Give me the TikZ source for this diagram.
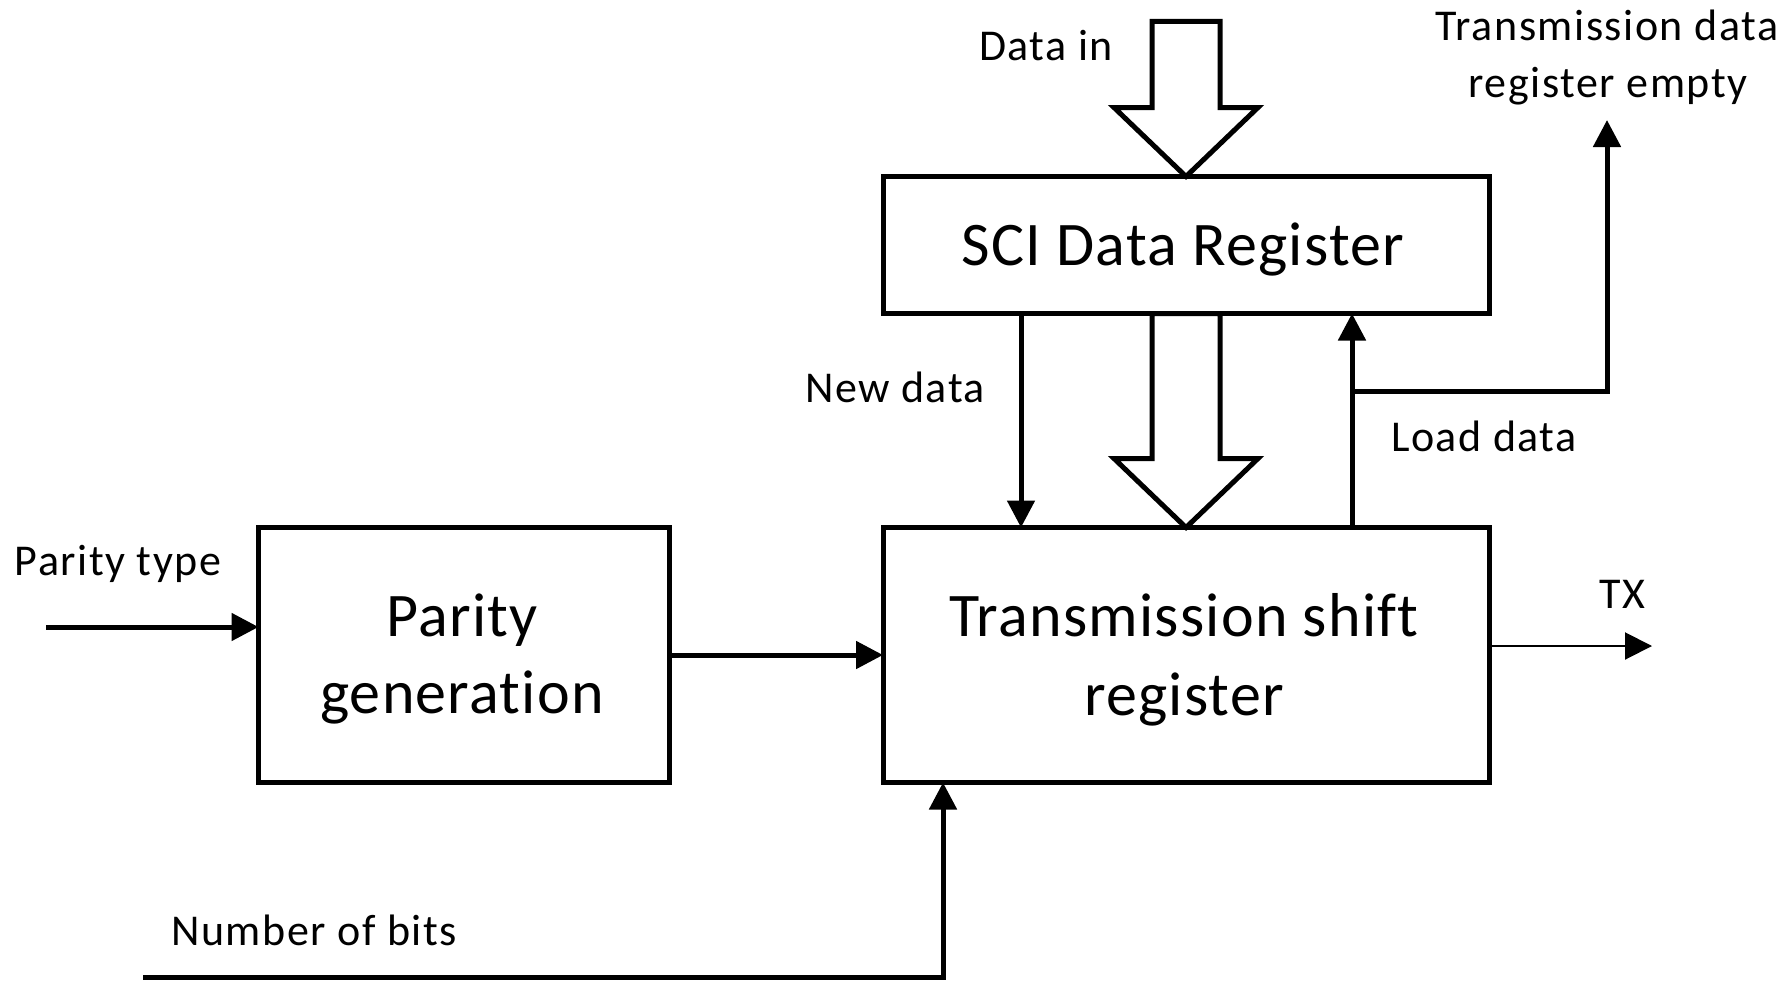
\documentclass[tikz,border=0pt]{standalone}
\usepackage{fontspec}
\setmainfont{Carlito}[Ligatures=NoCommon]
\newfontfamily\lblfont{Carlito}[LetterSpace=3.5,Ligatures=NoCommon]
\newfontfamily\boxfont{Carlito}[LetterSpace=2,Ligatures=NoCommon]
\usetikzlibrary{arrows.meta}
\begin{document}
\begin{tikzpicture}[x=1pt,y=-1pt,
  box/.style={draw=black,line width=5pt,rectangle,inner sep=0pt,outer sep=0pt,fill=white},
  lbl/.style={anchor=base,inner sep=0pt,font=\lblfont\fontsize{44}{50}\selectfont},
  btxt/.style={anchor=base,inner sep=0pt,font=\boxfont\fontsize{62}{79}\selectfont},
  arr/.style={line width=5pt,-{Triangle[length=27pt,width=27pt]}},
  tharr/.style={line width=2pt,-{Triangle[length=27pt,width=27pt]}},
  hollow/.style={draw=black,line width=5pt,fill=white,line join=miter}]
\useasboundingbox (0,0) rectangle (1789,982);
% boxes
\node[box,minimum width=606pt,minimum height=137pt] (sci) at (1186,245) {};
\node[box,minimum width=606pt,minimum height=255pt] (tsr) at (1186,655) {};
\node[box,minimum width=411pt,minimum height=255pt] (pg) at (464,655) {};
% box texts
\node[btxt] (scit) at (1183,265) {SCI Data Register};
\node[btxt] (tsrt1) at (1184,636) {Transmission shift};
\node[btxt] (tsrt2) at (1184,715) {register};
\node[btxt] (pgt1) at (462,636) {Parity};
\node[btxt] (pgt2) at (462,713) {generation};
% hollow arrows
\draw[hollow] (sci.north) -- ++(-72,-69) -- ++(38,0) -- ++(0,-86) -- ++(68,0) -- ++(0,86) -- ++(38,0) -- cycle;
\draw[hollow] (tsr.north) -- ++(-72,-69) -- ++(38,0) -- ++(0,-145) -- ++(68,0) -- ++(0,145) -- ++(38,0) -- cycle;
% coordinates
\coordinate (ptin) at (46,627);
\coordinate (nd) at (1021,0);
\coordinate (ld) at (1352,0);
\coordinate (br) at (1352,391);
\coordinate (tde) at (1607,120);
\coordinate (txend) at (1652,646);
\coordinate (nb) at (143,977);
\coordinate (nbx) at (943,977);
% connectors
\draw[arr] (ptin) -- (ptin -| pg.west);
\draw[arr] (pg.east) -- (tsr.west);
\draw[arr] (nd |- sci.south) -- (nd |- tsr.north);
\draw[arr] (ld |- tsr.north) -- (ld |- sci.south);
\draw[arr] (br) -- (br -| tde) -- (tde);
\draw[tharr] (tsr.east |- txend) -- (txend);
\draw[arr] (nb) -- (nbx) -- (nbx |- tsr.south);
% labels
\node[lbl] (ldin) at (1046,60) {Data in};
\node[lbl] (ltde1) at (1607,41) {Transmission data};
\node[lbl] (ltde2) at (1608,97) {register empty};
\node[lbl] (lnd) at (895,402) {New data};
\node[lbl] (lld) at (1484,451) {Load data};
\node[lbl] (lpt) at (118,575) {Parity type};
\node[lbl] (ltx) at (1622,608) {TX};
\node[lbl] (lnb) at (314,945) {Number of bits};
\end{tikzpicture}
\end{document}
